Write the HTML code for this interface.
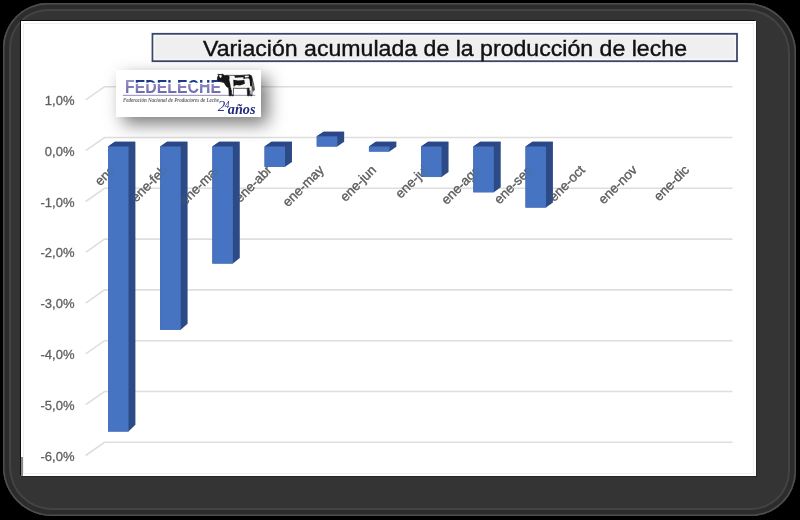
<!DOCTYPE html>
<html><head><meta charset="utf-8"><title>Variación acumulada de la producción de leche</title>
<style>
html,body{margin:0;padding:0;background:#000;width:800px;height:520px;overflow:hidden;}
.frame{position:absolute;left:3px;top:3px;width:793px;height:513px;border-radius:45px 50px 45px 49px;background:#343434;box-shadow:inset 0 0 0 1.5px #4e4e4e, inset 0 0 0 6px #2c2c2c, inset 0 0 0 8px #434343;}
.inner{position:absolute;left:21px;top:21px;width:735px;height:455px;background:#fff;box-shadow:-1px -1px 0 #0e0e0e, 1px 1px 0 #262626;}
.inner:after{content:'';position:absolute;left:2px;top:2px;right:2px;bottom:2px;border:1px solid #efefef;}
svg{position:absolute;left:0;top:0;filter:blur(0.35px);}
.grid polyline{fill:none;stroke:#dedede;stroke-width:1.6;}
.yl text{font-family:"Liberation Sans",Arial,sans-serif;font-size:13px;stroke:#5f5f5f;stroke-width:0.3px;fill:#5f5f5f;text-anchor:end;}
.cl text{font-family:"Liberation Sans",Arial,sans-serif;font-size:13.3px;stroke:#5f5f5f;stroke-width:0.3px;fill:#5f5f5f;text-anchor:end;}
.fr{fill:#4674c2;}
.sd{fill:#2c4b86;}
.tp{fill:#2a4888;}
</style></head><body>
<div class="frame"></div>
<div class="inner"></div>
<div style="position:absolute;left:21px;top:457px;width:1.5px;height:19px;background:#8a8a8a;"></div>
<svg width="800" height="520" viewBox="0 0 800 520">
<defs>
<filter id="sh" x="-40%" y="-80%" width="190%" height="280%"><feDropShadow dx="7" dy="7" stdDeviation="8.5" flood-color="#000" flood-opacity="0.52"/></filter>
<linearGradient id="fg" gradientUnits="userSpaceOnUse" x1="0" y1="80.3" x2="0" y2="93">
<stop offset="0" stop-color="#1c3a8c"/><stop offset="0.17" stop-color="#1c3a8c"/>
<stop offset="0.18" stop-color="#ffffff"/><stop offset="0.30" stop-color="#ffffff"/>
<stop offset="0.31" stop-color="#8e89c6"/><stop offset="1" stop-color="#6f6ba8"/>
</linearGradient>
<linearGradient id="ff" gradientUnits="userSpaceOnUse" x1="0" y1="80.3" x2="0" y2="93">
<stop offset="0" stop-color="#9591ca"/><stop offset="1" stop-color="#6f6ba8"/>
</linearGradient>
</defs>
<g class="grid"><polyline points="85.7,99.90 104.5,86.70 732.5,86.70" /><polyline points="85.7,150.70 104.5,137.50 732.5,137.50" /><polyline points="85.7,201.50 104.5,188.30 732.5,188.30" /><polyline points="85.7,252.30 104.5,239.10 732.5,239.10" /><polyline points="85.7,303.10 104.5,289.90 732.5,289.90" /><polyline points="85.7,353.90 104.5,340.70 732.5,340.70" /><polyline points="85.7,404.70 104.5,391.50 732.5,391.50" /><polyline points="85.7,455.50 104.5,442.30 732.5,442.30" /></g>
<g class="yl"><text x="74.5" y="105.00">1,0%</text><text x="74.5" y="155.80">0,0%</text><text x="74.5" y="206.60">-1,0%</text><text x="74.5" y="257.40">-2,0%</text><text x="74.5" y="308.20">-3,0%</text><text x="74.5" y="359.00">-4,0%</text><text x="74.5" y="409.80">-5,0%</text><text x="74.5" y="460.60">-6,0%</text></g>
<g class="cl"><text x="115.95" y="170.80" transform="rotate(-45 115.95 170.80)">ene</text><text x="168.14" y="170.80" transform="rotate(-45 168.14 170.80)">ene-feb</text><text x="220.33" y="170.80" transform="rotate(-45 220.33 170.80)">ene-mar</text><text x="272.52" y="170.80" transform="rotate(-45 272.52 170.80)">ene-abr</text><text x="324.71" y="170.80" transform="rotate(-45 324.71 170.80)">ene-may</text><text x="376.90" y="170.80" transform="rotate(-45 376.90 170.80)">ene-jun</text><text x="429.09" y="170.80" transform="rotate(-45 429.09 170.80)">ene-jul</text><text x="481.28" y="170.80" transform="rotate(-45 481.28 170.80)">ene-ago</text><text x="533.47" y="170.80" transform="rotate(-45 533.47 170.80)">ene-sep</text><text x="585.66" y="170.80" transform="rotate(-45 585.66 170.80)">ene-oct</text><text x="637.85" y="170.80" transform="rotate(-45 637.85 170.80)">ene-nov</text><text x="690.04" y="170.80" transform="rotate(-45 690.04 170.80)">ene-dic</text></g>
<g class="bars"><polygon class="sd" points="108.00,146.50 114.90,141.80 135.40,141.80 135.40,424.64 128.50,431.54 108.00,431.54"/><polygon class="tp" points="108.00,146.50 128.50,146.50 135.40,141.80 114.90,141.80"/><rect class="fr" x="108.00" y="146.50" width="20.50" height="285.04"/><polygon class="sd" points="160.19,146.50 167.09,141.80 187.59,141.80 187.59,323.63 180.69,329.74 160.19,329.74"/><polygon class="tp" points="160.19,146.50 180.69,146.50 187.59,141.80 167.09,141.80"/><rect class="fr" x="160.19" y="146.50" width="20.50" height="183.24"/><polygon class="sd" points="212.38,146.50 219.28,141.80 239.78,141.80 239.78,257.96 232.88,263.57 212.38,263.57"/><polygon class="tp" points="212.38,146.50 232.88,146.50 239.78,141.80 219.28,141.80"/><rect class="fr" x="212.38" y="146.50" width="20.50" height="117.07"/><polygon class="sd" points="264.57,146.50 271.47,141.80 291.97,141.80 291.97,162.00 285.07,166.86 264.57,166.86"/><polygon class="tp" points="264.57,146.50 285.07,146.50 291.97,141.80 271.47,141.80"/><rect class="fr" x="264.57" y="146.50" width="20.50" height="20.36"/><polygon class="sd" points="316.76,136.32 323.66,131.69 344.16,131.69 344.16,141.80 337.26,146.50 316.76,146.50"/><polygon class="tp" points="316.76,136.32 337.26,136.32 344.16,131.69 323.66,131.69"/><rect class="fr" x="316.76" y="136.32" width="20.50" height="10.18"/><polygon class="sd" points="368.95,146.50 375.85,141.80 396.35,141.80 396.35,146.85 389.45,151.59 368.95,151.59"/><polygon class="tp" points="368.95,146.50 389.45,146.50 396.35,141.80 375.85,141.80"/><rect class="fr" x="368.95" y="146.50" width="20.50" height="5.09"/><polygon class="sd" points="421.14,146.50 428.04,141.80 448.54,141.80 448.54,172.10 441.64,177.04 421.14,177.04"/><polygon class="tp" points="421.14,146.50 441.64,146.50 448.54,141.80 428.04,141.80"/><rect class="fr" x="421.14" y="146.50" width="20.50" height="30.54"/><polygon class="sd" points="473.33,146.50 480.23,141.80 500.73,141.80 500.73,187.25 493.83,192.31 473.33,192.31"/><polygon class="tp" points="473.33,146.50 493.83,146.50 500.73,141.80 480.23,141.80"/><rect class="fr" x="473.33" y="146.50" width="20.50" height="45.81"/><polygon class="sd" points="525.52,146.50 532.42,141.80 552.92,141.80 552.92,202.41 546.02,207.58 525.52,207.58"/><polygon class="tp" points="525.52,146.50 546.02,146.50 552.92,141.80 532.42,141.80"/><rect class="fr" x="525.52" y="146.50" width="20.50" height="61.08"/></g>
<g class="cl" opacity="0.22"><text x="115.95" y="170.80" transform="rotate(-45 115.95 170.80)">ene</text><text x="168.14" y="170.80" transform="rotate(-45 168.14 170.80)">ene-feb</text><text x="220.33" y="170.80" transform="rotate(-45 220.33 170.80)">ene-mar</text><text x="272.52" y="170.80" transform="rotate(-45 272.52 170.80)">ene-abr</text><text x="324.71" y="170.80" transform="rotate(-45 324.71 170.80)">ene-may</text><text x="376.90" y="170.80" transform="rotate(-45 376.90 170.80)">ene-jun</text><text x="429.09" y="170.80" transform="rotate(-45 429.09 170.80)">ene-jul</text><text x="481.28" y="170.80" transform="rotate(-45 481.28 170.80)">ene-ago</text><text x="533.47" y="170.80" transform="rotate(-45 533.47 170.80)">ene-sep</text><text x="585.66" y="170.80" transform="rotate(-45 585.66 170.80)">ene-oct</text><text x="637.85" y="170.80" transform="rotate(-45 637.85 170.80)">ene-nov</text><text x="690.04" y="170.80" transform="rotate(-45 690.04 170.80)">ene-dic</text></g>
<rect x="152.5" y="33.8" width="584.5" height="27.4" fill="#efefef" stroke="#3b4766" stroke-width="1.8"/><rect x="154.4" y="35.7" width="580.7" height="23.6" fill="none" stroke="#f7f8ff" stroke-width="1.4"/>
<text x="203" y="55.6" textLength="484" lengthAdjust="spacingAndGlyphs" font-family="Liberation Sans,Arial,sans-serif" font-size="22" fill="#111" stroke="#111" stroke-width="0.4">Variación acumulada de la producción de leche</text>
<g id="logo">
<rect x="116" y="70" width="145" height="47" fill="#fff" filter="url(#sh)"/>
<text x="125" y="92.9" textLength="96" lengthAdjust="spacingAndGlyphs" font-family="Liberation Sans,Arial,sans-serif" font-weight="bold" font-size="17.6" fill="url(#fg)"><tspan fill="url(#ff)">F</tspan>EDELECHE</text>
<rect x="122.8" y="94.8" width="132.5" height="1.1" fill="#9a98c0"/>
<text x="123" y="102.4" textLength="96" lengthAdjust="spacingAndGlyphs" font-family="Liberation Serif,serif" font-style="italic" font-weight="bold" font-size="6.8" fill="#666">Federación Nacional de Productores de Leche</text>
<text x="217.8" y="111.3" font-family="Liberation Serif,serif" font-style="italic" font-size="15" fill="#2b2f85"><tspan>2</tspan><tspan font-size="9.5" dy="-3.8" dx="-0.6">4</tspan><tspan dy="6.6" dx="-1.6" font-weight="bold" font-size="14.2" fill="#1f2a7a">años</tspan></text>
<g id="cow">
<path d="M217.3,80.2 L217.5,77.5 L218.5,75.2 L217.8,74.3 L220,74.6 L222.5,74.2 L224.5,75.4 L228,75.3 L240,75.4 L249.5,74.8 L251.5,75.8 L252.5,80 L253.5,84 L254.5,90 L253.2,91.2 L252.2,86 L252,95.8 L250.3,95.8 L249.8,90.5 L249.2,95.8 L247.6,95.8 L247.2,88.5 L245,88.3 L236,88.4 L233.5,88 L233.3,95.8 L231.6,95.8 L231.2,90 L230.8,95.8 L229.2,95.8 L228.8,88 L226.5,86.5 L224,82.5 L221,81.8 L219,81.5 Z" fill="#f6f6f6" stroke="#1a1a1a" stroke-width="0.7" stroke-linejoin="round"/>
<path d="M217.3,80.2 L217.5,77.5 L218.5,75.2 L217.8,74.3 L220,74.6 L222.5,74.2 L224.5,75.4 L228,75.3 L229.6,76.5 L229.3,80 L230.2,84 L230.8,87.6 L228.8,88 L226.5,86.5 L224,82.5 L221,81.8 L219,81.5 Z M234.3,75.5 L243,75.3 L243.2,77.2 L235,77.7 Z M233.3,79.8 L238,80.6 L244.3,80 L244.9,83.8 L240,85.6 L236,85 L233.6,86.8 Z M243,75.2 L249.5,74.8 L251.5,75.8 L252.5,80 L252.3,86.2 L250.2,86.2 L249.6,79.6 L248.4,78.3 L245,78.4 L243.6,79.6 Z M228.8,87.6 L231.2,87.8 L231.1,95.8 L229.2,95.8 Z M247.2,87.8 L249.5,87.8 L249.4,95.8 L247.6,95.8 Z M231.5,94.6 L233.3,94.6 L233.3,95.8 L231.6,95.8 Z M250.2,94.6 L252,94.6 L252,95.8 L250.3,95.8 Z" fill="#161616"/>
<path d="M218.9,75.3 L221.4,74.9 L221.8,77 L220.1,77.9 Z M244.6,75.7 L248.8,75.5 L248.6,77.3 L245,77.5 Z" fill="#f6f6f6"/>
<path d="M252.4,80.5 L253.3,84 L254.4,90 L253.3,91.1 L252.4,86.5 Z" fill="#555"/>
</g>
</g>
</svg>
</body></html>
